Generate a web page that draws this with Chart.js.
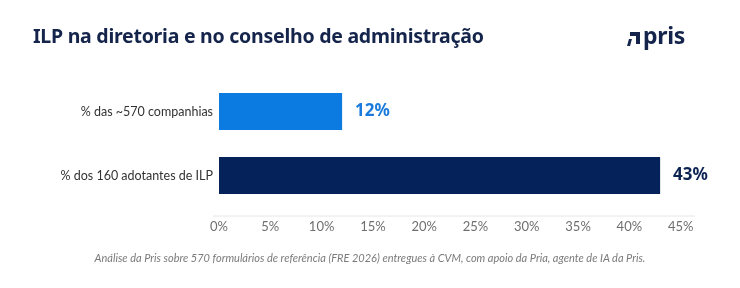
<!DOCTYPE html>
<html>
<head>
<meta charset="utf-8">
<script src="https://cdn.jsdelivr.net/npm/chart.js@4/dist/chart.umd.min.js"></script>
<style>
    body { margin: 0; background: #fff; }
    #wrap { position: relative; width: 740px; height: 288px; overflow: hidden; }
    #title {
        position: absolute; left: 33px; top: 22px;
        font: bold 19.5px "Noto Sans", sans-serif; color: #14244b; letter-spacing: -0.25px;
    }
    #logo {
        position: absolute; left: 627px; top: 19px;
        font: bold 23px "Noto Sans", sans-serif; color: #14244b; letter-spacing: -0.3px;
    }
    #logo .mark { display: inline-block; position: relative; width: 14px; height: 16px; margin-right: 2px; }
    #logo .mark .a { position: absolute; left: 3px; top: 4px; width: 10px; height: 4px; background: #14244b; }
    #logo .mark .b { position: absolute; left: 9px; top: 4px; width: 4px; height: 12px; background: #14244b; }
    #logo .mark .c { position: absolute; left: 1px; top: 11px; width: 3px; height: 7px; background: #14244b; transform: skewX(-15deg); }
    #note {
        position: absolute; left: 0; width: 740px; top: 251px; text-align: center;
        font: italic 11px Lato, "Open Sans", sans-serif; color: #7a7a7a;
    }
    canvas { position: absolute; left: 0; top: 0; }
</style>
</head>
<body>
<div id="wrap">
    <canvas id="chart" width="740" height="288"></canvas>
    <div id="title">ILP na diretoria e no conselho de administração</div>
    <div id="logo"><span class="mark"><span class="a"></span><span class="b"></span><span class="c"></span></span>pris</div>
    <div id="note">Análise da Pris sobre 570 formulários de referência (FRE 2026) entregues à CVM, com apoio da Pria, agente de IA da Pris.</div>
</div>
<script>
const categories = ['% das ~570 companhias', '% dos 160 adotantes de ILP'];
const values = [12, 43];
const barColors = ['#0b7be2', '#06225a'];
const labelColors = ['#1b7bdc', '#0d2352'];
const tickValues = [0, 5, 10, 15, 20, 25, 30, 35, 40, 45];

// value labels at the end of each bar
const valueLabels = {
    id: 'valueLabels',
    afterDatasetsDraw(chart) {
        const ctx = chart.ctx;
        const meta = chart.getDatasetMeta(0);
        ctx.save();
        ctx.font = 'bold 17px "Noto Sans", sans-serif';
        ctx.textBaseline = 'middle';
        ctx.textAlign = 'left';
        meta.data.forEach((bar, i) => {
            ctx.fillStyle = labelColors[i];
            ctx.fillText(values[i] + '%', bar.x + 13, bar.y);
        });
        ctx.restore();
    }
};

// thin axis line a bit below the bars
const axisLine = {
    id: 'axisLine',
    beforeDatasetsDraw(chart) {
        const ctx = chart.ctx;
        const area = chart.chartArea;
        ctx.save();
        ctx.strokeStyle = '#e6e6e6';
        ctx.lineWidth = 1;
        ctx.beginPath();
        ctx.moveTo(area.left - 6, area.bottom + 8.5);
        ctx.lineTo(area.right, area.bottom + 8.5);
        ctx.stroke();
        ctx.restore();
    }
};

new Chart(document.getElementById('chart'), {
    type: 'bar',
    data: {
        labels: categories,
        datasets: [{
            data: values,
            backgroundColor: barColors,
            borderWidth: 0,
            categoryPercentage: 1,
            barPercentage: 0.58
        }]
    },
    options: {
        indexAxis: 'y',
        responsive: false,
        animation: false,
        layout: { padding: { top: 79.5, right: 45, left: 0, bottom: 0 } },
        plugins: { legend: { display: false }, tooltip: { enabled: false } },
        scales: {
            x: {
                min: 0,
                max: 46.4,
                afterFit: (s) => { s.height = 80.5; },
                afterBuildTicks: (s) => { s.ticks = tickValues.map(v => ({ value: v })); },
                grid: { display: false, drawTicks: false },
                border: { display: false },
                ticks: {
                    padding: 12,
                    color: '#6f6f6f',
                    font: { family: 'Lato', size: 13 },
                    callback: (v) => v + '%'
                }
            },
            y: {
                afterFit: (s) => { s.width = 219; },
                grid: { display: false, drawTicks: false },
                border: { display: false },
                ticks: {
                    padding: 6,
                    color: '#333',
                    font: { family: 'Lato', size: 12.5 }
                }
            }
        }
    },
    plugins: [valueLabels, axisLine]
});
</script>
</body>
</html>
